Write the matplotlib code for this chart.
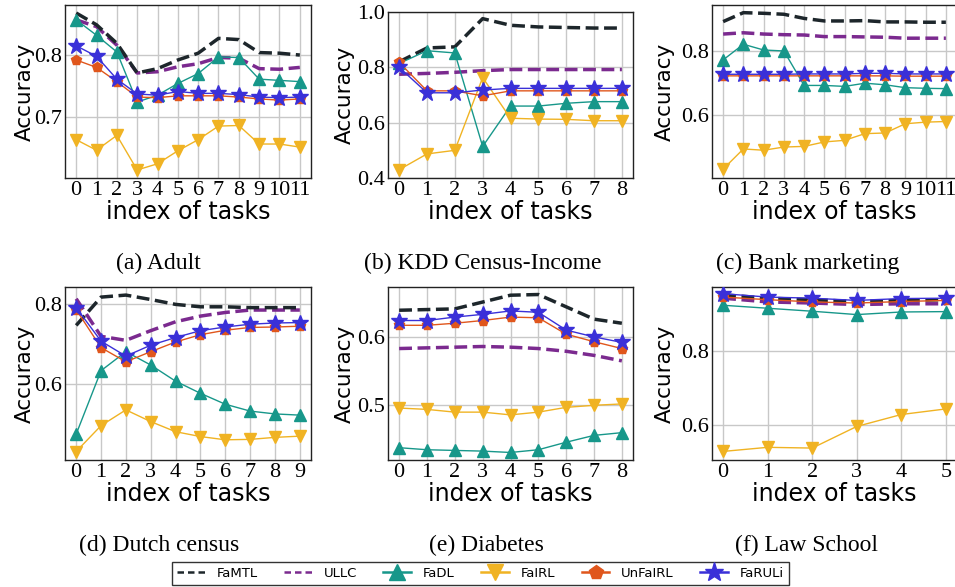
import matplotlib
matplotlib.use("Agg")
import matplotlib.pyplot as plt
from matplotlib.lines import Line2D

methods = ["FaMTL", "ULLC", "FaDL", "FaIRL", "UnFaIRL", "FaRULi"]

captions = ["(a) Adult", "(b) KDD Census-Income", "(c) Bank marketing",
            "(d) Dutch census", "(e) Diabetes", "(f) Law School"]

# (a) Adult
adult_famtl = [0.868, 0.849, 0.819, 0.771, 0.778, 0.792, 0.803, 0.827, 0.825, 0.804, 0.803, 0.800]
adult_ullc = [0.857, 0.846, 0.816, 0.771, 0.773, 0.781, 0.786, 0.796, 0.795, 0.778, 0.777, 0.780]
adult_fadl = [0.857, 0.832, 0.805, 0.724, 0.735, 0.754, 0.770, 0.797, 0.796, 0.761, 0.759, 0.757]
adult_fairl = [0.663, 0.646, 0.670, 0.614, 0.624, 0.645, 0.663, 0.685, 0.686, 0.656, 0.656, 0.651]
adult_unfairl = [0.792, 0.780, 0.757, 0.732, 0.731, 0.734, 0.734, 0.734, 0.732, 0.729, 0.727, 0.729]
adult_faruli = [0.815, 0.798, 0.761, 0.737, 0.735, 0.741, 0.738, 0.738, 0.736, 0.732, 0.731, 0.732]

# (b) KDD Census-Income
kdd_famtl = [0.820, 0.870, 0.874, 0.976, 0.952, 0.946, 0.944, 0.942, 0.942]
kdd_ullc = [0.775, 0.778, 0.782, 0.788, 0.792, 0.792, 0.792, 0.792, 0.792]
kdd_fadl = [0.814, 0.860, 0.852, 0.514, 0.660, 0.660, 0.670, 0.676, 0.676]
kdd_fairl = [0.430, 0.487, 0.500, 0.763, 0.616, 0.613, 0.612, 0.607, 0.607]
kdd_unfairl = [0.818, 0.715, 0.715, 0.697, 0.715, 0.715, 0.715, 0.715, 0.715]
kdd_faruli = [0.800, 0.708, 0.708, 0.718, 0.724, 0.724, 0.724, 0.724, 0.724]

# (c) Bank marketing
bank_famtl = [0.892, 0.920, 0.918, 0.915, 0.902, 0.894, 0.894, 0.895, 0.891, 0.891, 0.890, 0.890]
bank_ullc = [0.853, 0.857, 0.853, 0.851, 0.850, 0.845, 0.845, 0.844, 0.843, 0.840, 0.840, 0.840]
bank_fadl = [0.772, 0.821, 0.803, 0.800, 0.692, 0.692, 0.689, 0.699, 0.694, 0.685, 0.683, 0.682]
bank_fairl = [0.430, 0.493, 0.489, 0.499, 0.501, 0.515, 0.520, 0.541, 0.543, 0.572, 0.577, 0.579]
bank_unfairl = [0.722, 0.722, 0.722, 0.722, 0.722, 0.722, 0.722, 0.722, 0.722, 0.721, 0.721, 0.721]
bank_faruli = [0.727, 0.727, 0.727, 0.727, 0.728, 0.728, 0.728, 0.730, 0.730, 0.728, 0.728, 0.728]

# (d) Dutch census
dutch_famtl = [0.746, 0.816, 0.821, 0.810, 0.798, 0.792, 0.792, 0.790, 0.790, 0.790]
dutch_ullc = [0.812, 0.719, 0.709, 0.733, 0.755, 0.769, 0.778, 0.784, 0.784, 0.784]
dutch_fadl = [0.477, 0.634, 0.681, 0.648, 0.608, 0.578, 0.551, 0.534, 0.527, 0.524]
dutch_fairl = [0.434, 0.498, 0.537, 0.508, 0.483, 0.471, 0.463, 0.464, 0.469, 0.472]
dutch_unfairl = [0.785, 0.691, 0.656, 0.681, 0.705, 0.723, 0.734, 0.741, 0.742, 0.744]
dutch_faruli = [0.790, 0.707, 0.670, 0.697, 0.716, 0.733, 0.742, 0.749, 0.752, 0.753]

# (e) Diabetes
diab_famtl = [0.639, 0.640, 0.641, 0.651, 0.661, 0.662, 0.644, 0.626, 0.620]
diab_ullc = [0.583, 0.584, 0.585, 0.586, 0.585, 0.583, 0.579, 0.573, 0.565]
diab_fadl = [0.438, 0.435, 0.434, 0.433, 0.431, 0.435, 0.446, 0.456, 0.460]
diab_fairl = [0.496, 0.494, 0.490, 0.490, 0.486, 0.490, 0.497, 0.500, 0.502]
diab_unfairl = [0.617, 0.617, 0.620, 0.624, 0.629, 0.628, 0.604, 0.593, 0.583]
diab_faruli = [0.624, 0.624, 0.629, 0.633, 0.638, 0.636, 0.610, 0.600, 0.592]

# (f) Law School
law_famtl = [0.950, 0.941, 0.937, 0.932, 0.935, 0.937]
law_ullc = [0.941, 0.931, 0.928, 0.924, 0.926, 0.926]
law_fadl = [0.922, 0.914, 0.906, 0.897, 0.904, 0.905]
law_fairl = [0.530, 0.541, 0.539, 0.597, 0.629, 0.644]
law_unfairl = [0.944, 0.937, 0.931, 0.928, 0.932, 0.935]
law_faruli = [0.953, 0.944, 0.941, 0.935, 0.940, 0.941]

datasets = [
    [adult_famtl, adult_ullc, adult_fadl, adult_fairl, adult_unfairl, adult_faruli],
    [kdd_famtl, kdd_ullc, kdd_fadl, kdd_fairl, kdd_unfairl, kdd_faruli],
    [bank_famtl, bank_ullc, bank_fadl, bank_fairl, bank_unfairl, bank_faruli],
    [dutch_famtl, dutch_ullc, dutch_fadl, dutch_fairl, dutch_unfairl, dutch_faruli],
    [diab_famtl, diab_ullc, diab_fadl, diab_fairl, diab_unfairl, diab_faruli],
    [law_famtl, law_ullc, law_fadl, law_fairl, law_unfairl, law_faruli],
]

ylims = [(0.601, 0.881), (0.4, 1.0), (0.402, 0.944), (0.413, 0.841), (0.42, 0.673), (0.507, 0.971)]
yticks = [[0.7, 0.8], [0.4, 0.6, 0.8, 1.0], [0.6, 0.8], [0.6, 0.8], [0.5, 0.6], [0.6, 0.8]]

colors = ["#1d262b", "#7b2a8f", "#17978a", "#f0b323", "#e0561c", "#3a30d8"]
markers = [None, None, "^", "v", "p", "*"]
msizes = [0, 0, 8, 8, 7, 12]
leg_msizes = [0, 0, 12, 12, 10, 14]

W, H = 955, 587
fig = plt.figure(figsize=(W / 100, H / 100), dpi=100)

# axes boxes in pixels: left, top, right, bottom
boxes = [(65, 5, 311, 178), (388, 12, 633, 178), (712, 5, 957, 178),
         (65, 287, 311, 460), (388, 287, 633, 460), (712, 287, 957, 460)]
ylabel_x = [35, 355, 675, 35, 355, 675]
cap_pos = [(158, 263), (483, 263), (808, 263), (159, 545), (486, 545), (806, 545)]

serif = "Liberation Serif"

for i, (l, t, r, b) in enumerate(boxes):
    ax = fig.add_axes([l / W, 1 - b / H, (r - l) / W, (b - t) / H])
    series = datasets[i]
    n = len(series[0])
    xs = list(range(n))
    for j, vals in enumerate(series):
        if markers[j] is None:
            ax.plot(xs, vals, color=colors[j], lw=2.5, ls=(0, (3.7, 1.6)), zorder=3 + (1 - j))
        else:
            ax.plot(xs, vals, color=colors[j], lw=1.0, marker=markers[j],
                    markersize=msizes[j], zorder=3 + j)
    ax.set_xticks(xs)
    ax.set_xticklabels([str(x) for x in xs], fontfamily=serif, fontsize=16)
    ax.set_ylim(*ylims[i])
    ax.set_yticks(yticks[i])
    ax.set_yticklabels([f"{v:.1f}" for v in yticks[i]], fontfamily=serif, fontsize=16)
    ax.grid(True, color="#c8c8c8", lw=1.0)
    ax.set_axisbelow(True)
    ax.tick_params(length=0, pad=2)
    for s in ax.spines.values():
        s.set_color("#222222")
        s.set_linewidth(1.0)
    ax.set_xlabel("index of tasks", fontsize=17, labelpad=0)
    ax.set_ylabel("Accuracy", fontsize=15.5)
    ax.yaxis.set_label_coords((ylabel_x[i] - l) / (r - l), 0.5)
    cx, cy = cap_pos[i]
    fig.text(cx / W, 1 - cy / H, captions[i], fontfamily=serif, fontsize=17,
             ha="center", va="center")

handles = []
for j in range(6):
    if markers[j] is None:
        handles.append(Line2D([], [], color=colors[j], lw=1.8, ls=(0, (2.6, 1.6))))
    else:
        handles.append(Line2D([], [], color=colors[j], lw=1.8, marker=markers[j],
                              markersize=leg_msizes[j]))
leg = fig.legend(handles, methods, ncol=6, loc="center",
                 bbox_to_anchor=(480.5 / W, 1 - 573.5 / H), fontsize=9.5,
                 frameon=True, fancybox=False, edgecolor="black",
                 handlelength=2.1, columnspacing=2.0, borderpad=0.35, handletextpad=0.9)
leg.get_frame().set_linewidth(1.0)

fig.savefig("out.png", dpi=100)
